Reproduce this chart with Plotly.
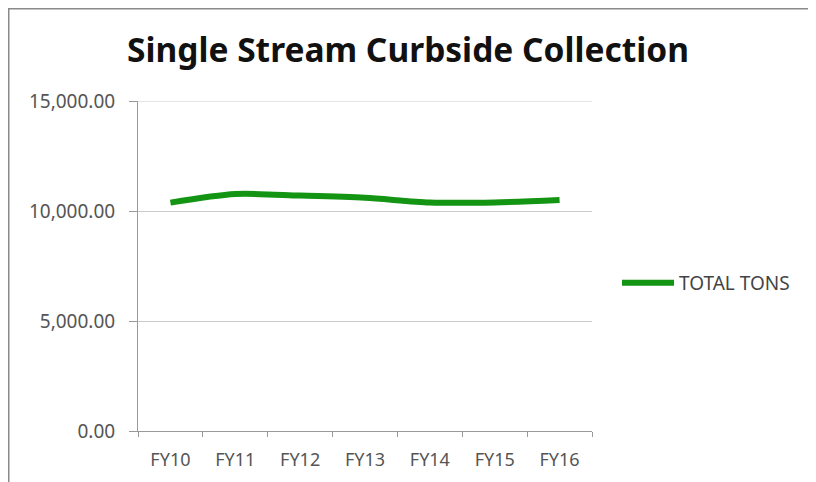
import plotly.graph_objects as go

categories = ["FY10", "FY11", "FY12", "FY13", "FY14", "FY15", "FY16"]
total_tons = [10380, 10770, 10700, 10600, 10390, 10390, 10500]
y_ticks = [0, 5000, 10000, 15000]
y_tick_labels = ["0.00", "5,000.00", "10,000.00", "15,000.00"]

# page body has an 8px offset; coordinates below are in figure pixels
W, H = 816, 482
L, R, T, B = 130, 232, 93, 59
pw = W - L - R
ph = H - T - B

def px_x(p):
    return (p - L) / pw

def px_y(p):
    return (H - B - p) / ph

fig = go.Figure()
fig.add_trace(go.Scatter(
    x=categories, y=total_tons, mode="lines", name="TOTAL TONS",
    line=dict(color="#139413", width=6, shape="spline", smoothing=0.8),
))

fig.update_layout(
    width=W, height=H,
    margin=dict(l=L, r=R, t=T, b=B),
    paper_bgcolor="white", plot_bgcolor="white",
    title=dict(text="<b>Single Stream Curbside Collection</b>", x=400 / W, xanchor="center",
               y=1 - 42 / H, yanchor="middle",
               font=dict(family="Noto Sans", size=33.5, color="#111111")),
    showlegend=True,
    legend=dict(x=px_x(609), y=px_y(275), xanchor="left", yanchor="middle",
                itemwidth=52,
                font=dict(family="Noto Sans", size=19, color="#444444"),
                bgcolor="rgba(0,0,0,0)"),
    xaxis=dict(type="category", tickson="boundaries", ticks="outside", ticklen=5,
               tickcolor="#999999", showline=True, linecolor="#999999", linewidth=1,
               showgrid=False, ticklabelstandoff=12,
               tickfont=dict(family="Noto Sans", size=18, color="#555555"),
               range=[-0.5, 6.5]),
    yaxis=dict(range=[0, 15000], tickvals=y_ticks, ticktext=y_tick_labels,
               ticks="outside", ticklen=8, tickcolor="#999999",
               showline=True, linecolor="#999999", linewidth=1,
               showgrid=True, gridcolor="#cccccc", gridwidth=1, zeroline=False,
               ticklabelstandoff=10,
               tickfont=dict(family="Noto Sans", size=19, color="#555555")),
    shapes=[
        dict(type="rect", xref="paper", yref="paper",
             x0=px_x(0.5), x1=px_x(802), y0=px_y(495), y1=px_y(0.5),
             line=dict(color="#8a8a8a", width=2), layer="below"),
        dict(type="line", xref="paper", yref="y", x0=0, x1=1, y0=15000, y1=15000,
             line=dict(color="#cccccc", width=1), layer="below"),
    ],
)

fig.write_html("out.html")
